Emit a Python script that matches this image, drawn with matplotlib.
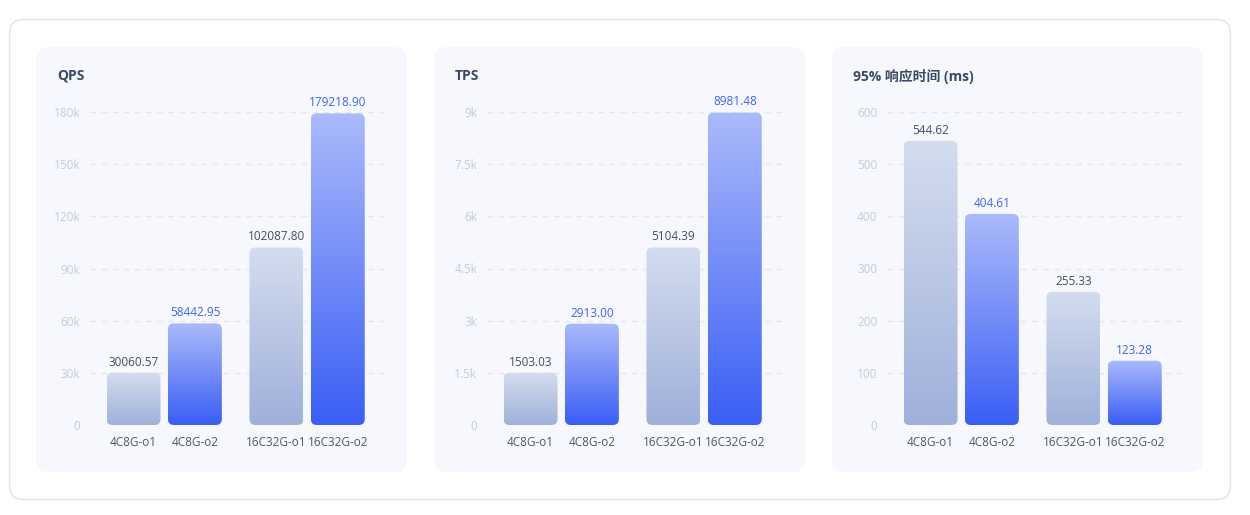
import numpy as np
import matplotlib
matplotlib.use("Agg")
import matplotlib.pyplot as plt
from matplotlib.patches import FancyBboxPatch
from matplotlib.colors import LinearSegmentedColormap

plt.rcParams['font.family'] = ['Open Sans', 'Noto Sans CJK SC', 'DejaVu Sans']

# ---------------- data ----------------
categories = ["4C8G-o1", "4C8G-o2", "16C32G-o1", "16C32G-o2"]
qps_values = [30060.57, 58442.95, 102087.80, 179218.90]
tps_values = [1503.03, 2913.00, 5104.39, 8981.48]
rt_values = [544.62, 404.61, 255.33, 123.28]

qps_ticks = [0, 30000, 60000, 90000, 120000, 150000, 180000]
qps_tick_labels = ["0", "30k", "60k", "90k", "120k", "150k", "180k"]
tps_ticks = [0, 1500, 3000, 4500, 6000, 7500, 9000]
tps_tick_labels = ["0", "1.5k", "3k", "4.5k", "6k", "7.5k", "9k"]
rt_ticks = [0, 100, 200, 300, 400, 500, 600]
rt_tick_labels = ["0", "100", "200", "300", "400", "500", "600"]

titles = ["QPS", "TPS", "95% 响应时间 (ms)"]

# ---------------- styling ----------------
W, H = 1250, 515
fig = plt.figure(figsize=(W / 100, H / 100), dpi=100)
fig.patch.set_facecolor("white")

bg = fig.add_axes([0, 0, 1, 1], zorder=-10)
bg.set_xlim(0, W)
bg.set_ylim(H, 0)
bg.axis("off")

bg.add_patch(FancyBboxPatch((9.5, 19.5), 1221, 480, boxstyle="round,pad=0,rounding_size=14",
                            fc="white", ec="#dfe3ee", lw=1.0))
panel_x = [36, 434, 832]
for px in panel_x:
    bg.add_patch(FancyBboxPatch((px, 47), 371, 425, boxstyle="round,pad=0,rounding_size=13",
                                fc="#f7f8fd", ec="none"))

grad_o1 = LinearSegmentedColormap.from_list("o1", ["#9fb0da", "#d4ddef"])
grad_o2 = LinearSegmentedColormap.from_list("o2", ["#3a5ef5", "#abbafb"])
label_colors = ["#434f68", "#3d63f5", "#434f68", "#3d63f5"]
grads = [grad_o1, grad_o2, grad_o1, grad_o2]

positions = [0, 1, 2.33, 3.33]
bar_w = 0.88

axes_left_px = [90, 487, 887]
ax_w_px = 295
ax_top_px, ax_bot_px = 112, 425

datasets = [
    (qps_values, qps_ticks, qps_tick_labels),
    (tps_values, tps_ticks, tps_tick_labels),
    (rt_values, rt_ticks, rt_tick_labels),
]

gradient = np.linspace(0, 1, 256).reshape(-1, 1)

for i, (vals, ticks, tlabels) in enumerate(datasets):
    ax = fig.add_axes([axes_left_px[i] / W, 1 - ax_bot_px / H,
                       ax_w_px / W, (ax_bot_px - ax_top_px) / H])
    ax.set_facecolor("none")
    ymax = ticks[-1]
    ax.set_ylim(0, ymax)
    ax.set_xlim(-0.71, 4.1)
    for s in ax.spines.values():
        s.set_visible(False)
    ax.set_yticks(ticks, tlabels)
    ax.tick_params(axis="y", length=0, pad=7, labelsize=8.5, labelcolor="#c6cbd7")
    ax.set_xticks(positions, categories)
    ax.tick_params(axis="x", length=0, pad=8, labelsize=8.5, labelcolor="#4b5670")
    for t in ticks:
        ax.axhline(t, color="#e4e7f0", lw=1, ls=(0, (4, 4)), zorder=0)

    p0 = ax.transData.transform((0, 0))
    p1 = ax.transData.transform((1, 1))
    px_x = p1[0] - p0[0]
    px_y = p1[1] - p0[1]
    aspect = px_x / px_y
    r = 6 / px_x

    bars = ax.bar(positions, vals, width=bar_w, color="none", zorder=1)
    for j, (b, v) in enumerate(zip(bars, vals)):
        x0 = b.get_x()
        w = b.get_width()
        h = b.get_height()
        clip = FancyBboxPatch((x0, 0), w, h,
                              boxstyle=f"round,pad=0,rounding_size={r}",
                              mutation_aspect=aspect, fc="none", ec="none",
                              transform=ax.transData)
        ax.add_patch(clip)
        im = ax.imshow(gradient, cmap=grads[j], aspect="auto", origin="lower",
                       extent=[x0, x0 + w, 0, h], zorder=2, interpolation="bilinear")
        im.set_clip_path(clip)
        ax.annotate(f"{v:.2f}", (positions[j], h), xytext=(0, 3), textcoords="offset points",
                    ha="center", va="bottom", fontsize=8.5, fontweight="medium",
                    color=label_colors[j], annotation_clip=False, zorder=3)
    ax.set_xlim(-0.71, 4.1)
    ax.set_ylim(0, ymax)

    bg.text(panel_x[i] + 21, 76, titles[i], fontsize=10, fontweight="bold",
            color="#3b4966", ha="left", va="center")

fig.savefig("out.png", dpi=100, facecolor="white")
